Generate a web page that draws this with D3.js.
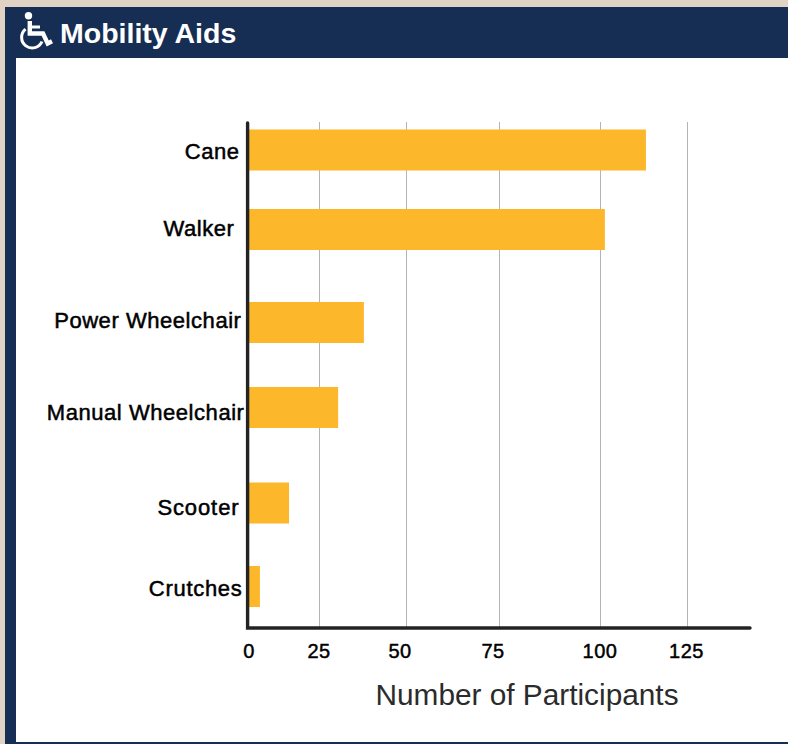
<!DOCTYPE html>
<html><head><meta charset="utf-8">
<script src="https://cdn.jsdelivr.net/npm/d3@7"></script>
<style>html,body{margin:0;padding:0;background:#fff}svg{display:block}</style></head>
<body><svg id="c" width="788" height="744"></svg>
<script>
const categories = ["Cane","Walker","Power Wheelchair","Manual Wheelchair","Scooter","Crutches"];
const values = [113.2,101.4,37.9,30.5,14.3,3.9];
const tickValues = [0,25,50,75,100,125];
const tickLabels = ["0","25","50","75","100","125"];
const xPositions = [249,319,406,499,600,687,750];
const xDomain = [0,25,50,75,100,125,143];
const barCenters = [150,229.5,322.5,407.5,503,586.5];
const labelEnds = [239.5,234.5,241.5,244.5,239.5,242.5];
const labelY = [151,228,320,412,507,588];
const labelSpacing = [0.55,0.55,0.55,0.55,0.9,0.7];
const tickLabelX = [249,319,400,493,600,686.5];

const svg = d3.select("#c");
const x = d3.scaleLinear().domain(xDomain).range(xPositions);
const y = d3.scaleOrdinal().domain(categories).range(barCenters);
const FONT = "'Liberation Sans', Arial, sans-serif";
const navy = "#162e54";

svg.append("rect").attr("width",788).attr("height",744).attr("fill","#e0d2c5");
svg.append("rect").attr("x",5).attr("y",7).attr("width",783).attr("height",737).attr("fill",navy);
svg.append("rect").attr("x",16).attr("y",58).attr("width",772).attr("height",684).attr("fill","#fff");

// wheelchair icon
const ic = svg.append("g").attr("fill","none").attr("stroke","#fff");
ic.append("circle").attr("cx",28.5).attr("cy",15.7).attr("r",3.7).attr("fill","#fff").attr("stroke","none");
ic.append("path").attr("d","M29.8 21 L29.8 33.5 L43 33.5 L47.7 43.5 L52 41.3").attr("stroke-width",4.4).attr("stroke-linejoin","miter");
ic.append("path").attr("d","M30 27 L40 27").attr("stroke-width",3);
ic.append("path").attr("d","M25.5 29.2 A10.6 10.6 0 1 0 42 41.5").attr("stroke-width",3);

svg.append("text").attr("x",60).attr("y",43).attr("font-family",FONT).attr("font-weight",700)
  .attr("font-size",28.5).attr("fill","#fff").text("Mobility Aids");

// grid
svg.append("g").selectAll("line").data(tickValues.slice(1)).join("line")
  .attr("x1",d=>x(d)+.5).attr("x2",d=>x(d)+.5).attr("y1",122).attr("y2",628)
  .attr("stroke","#b4b4b4").attr("stroke-width",1);

// bars
svg.append("g").selectAll("rect").data(categories).join("rect")
  .attr("x",x(0)).attr("width",(d,i)=>x(values[i])-x(0))
  .attr("y",d=>y(d)-20.5).attr("height",41).attr("fill","#fcb72a");

// axis lines
svg.append("path").attr("d",`M${x(0)-1.4} 123 V628 H${x(143)}`).attr("fill","none")
  .attr("stroke","#232323").attr("stroke-width",3.4).attr("stroke-linecap","round");

// category labels
svg.append("g").selectAll("text").data(categories).join("text")
  .attr("x",(d,i)=>labelEnds[i]).attr("y",(d,i)=>labelY[i]).attr("dy","0.35em")
  .attr("text-anchor","end").attr("font-family",FONT).attr("font-size",22)
  .attr("letter-spacing",(d,i)=>labelSpacing[i])
  .attr("fill","#000").attr("stroke","#000").attr("stroke-width",0.5).text(d=>d);

// tick labels
svg.append("g").selectAll("text").data(tickLabels).join("text")
  .attr("x",(d,i)=>tickLabelX[i]).attr("y",651).attr("dy","0.35em")
  .attr("text-anchor","middle").attr("font-family",FONT).attr("font-size",20)
  .attr("letter-spacing",0.5)
  .attr("fill","#000").attr("stroke","#000").attr("stroke-width",0.45).text(d=>d);

svg.append("text").attr("x",527).attr("y",705).attr("text-anchor","middle")
  .attr("font-family",FONT).attr("font-size",29.8).attr("fill","#2b2b2b").text("Number of Participants");
</script></body></html>
